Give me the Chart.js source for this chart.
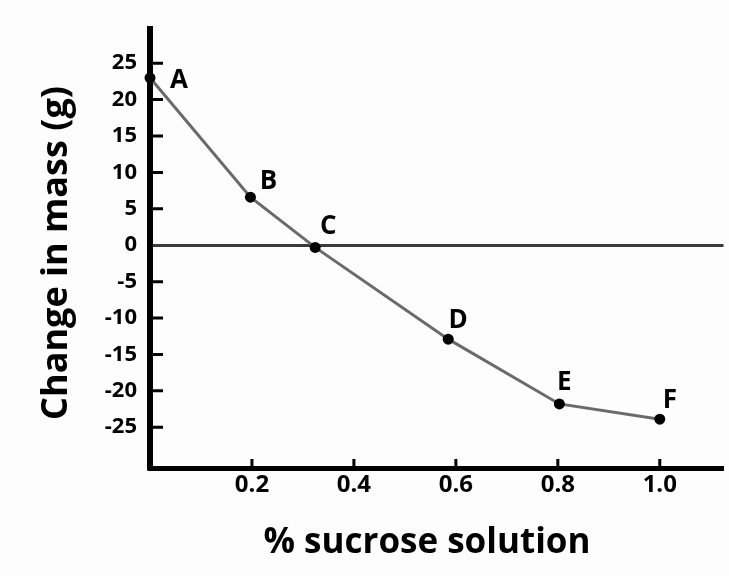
<!DOCTYPE html>
<html>
<head>
<meta charset="utf-8">
<script src="https://cdn.jsdelivr.net/npm/chart.js@4"></script>
<style>
  html, body { margin: 0; padding: 0; background: #fdfdfd; overflow: hidden; }
  canvas { display: block; }
</style>
</head>
<body>
<canvas id="chart-mass" width="729" height="576"></canvas>
<script>
// sucrose concentration vs change in mass
const pointLabels = ['A', 'B', 'C', 'D', 'E', 'F'];
const sucrose = [0, 0.197, 0.324, 0.585, 0.803, 1.0];
const massChange = [23, 6.6, -0.3, -12.9, -21.8, -23.9];

const xTicks = [0.2, 0.4, 0.6, 0.8, 1.0];
const yTicks = [-25, -20, -15, -10, -5, 0, 5, 10, 15, 20, 25];

// where each letter sits relative to its dot (px)
const LABEL_OFFSETS = [[29, 3], [18, -16], [13, -21], [10, -19], [5, -21], [10, -19]];

const FONT = '"Open Sans", "DejaVu Sans", sans-serif';

const innerTicks = {
    id: 'innerTicks',
    beforeDraw(chart) {
        const ctx = chart.ctx;
        ctx.save();
        ctx.fillStyle = '#fdfdfd';
        ctx.fillRect(0, 0, chart.width, chart.height);
        ctx.restore();
    },
    beforeDatasetsDraw(chart) {
        const { ctx, chartArea, scales } = chart;
        ctx.save();
        ctx.strokeStyle = '#000';
        ctx.lineWidth = 3;
        ctx.beginPath();
        yTicks.forEach(v => {
            if (v === 0) return;
            const y = scales.y.getPixelForValue(v);
            ctx.moveTo(chartArea.left, y);
            ctx.lineTo(chartArea.left + 13, y);
        });
        xTicks.forEach(v => {
            const x = scales.x.getPixelForValue(v);
            ctx.moveTo(x, chartArea.bottom);
            ctx.lineTo(x, chartArea.bottom - 9);
        });
        ctx.stroke();
        // fill the corner where the two thick axes meet
        ctx.fillStyle = '#000';
        ctx.fillRect(chartArea.left - 3, chartArea.bottom - 1, 6, 3.5);
        ctx.restore();
    },
    afterDatasetsDraw(chart) {
        const ctx = chart.ctx;
        const meta = chart.getDatasetMeta(0);
        ctx.save();
        ctx.fillStyle = '#000';
        ctx.font = `bold 26px ${FONT}`;
        ctx.textAlign = 'center';
        ctx.textBaseline = 'middle';
        meta.data.forEach((pt, i) => {
            const [dx, dy] = LABEL_OFFSETS[i];
            ctx.fillText(pointLabels[i], pt.x + dx, pt.y + dy);
        });

        // axis titles
        ctx.font = `bold 35px ${FONT}`;
        ctx.textBaseline = 'alphabetic';
        ctx.fillText('% sucrose solution', 427, 553);
        ctx.font = `bold 36px ${FONT}`;
        ctx.translate(67, 253);
        ctx.rotate(-Math.PI / 2);
        ctx.fillText('Change in mass (g)', 0, 0);
        ctx.restore();
    },
};

const massChart = new Chart(document.getElementById('chart-mass'), {
    type: 'line',
    data: {
        datasets: [{
            data: sucrose.map((x, i) => ({ x, y: massChange[i] })),
            borderColor: '#6a6a6a',
            borderWidth: 3,
            pointRadius: 5.5,
            pointBackgroundColor: '#000',
            pointBorderWidth: 0,
            tension: 0,
            clip: false,
        }],
    },
    options: {
        responsive: false,
        animation: false,
        events: [],
        layout: { padding: { top: 29, right: 2, left: 0, bottom: 0 } },
        plugins: {
            legend: { display: false },
            tooltip: { enabled: false },
        },
        scales: {
            x: {
                type: 'linear',
                min: 0,
                max: 1.125,
                afterBuildTicks: s => { s.ticks = xTicks.map(v => ({ value: v })); },
                afterFit: s => { s.height = 108; },
                ticks: {
                    color: '#000',
                    padding: 3,
                    maxRotation: 0,
                    autoSkip: false,
                    font: { family: FONT, size: 24, weight: 'bold' },
                    callback: v => v.toFixed(1),
                },
                grid: { display: false, drawTicks: false },
                border: { display: true, color: '#000', width: 5 },
            },
            y: {
                min: -30.6,
                max: 29.7,
                afterBuildTicks: s => { s.ticks = yTicks.map(v => ({ value: v })); },
                afterFit: s => { s.width = 150; },
                ticks: {
                    color: '#000',
                    padding: 13,
                    autoSkip: false,
                    font: { family: FONT, size: 22, weight: 'bold' },
                },
                grid: {
                    drawTicks: false,
                    color: c => (c.tick && c.tick.value === 0 ? '#3a3a3a' : 'rgba(0,0,0,0)'),
                    lineWidth: c => (c.tick && c.tick.value === 0 ? 3 : 0),
                },
                border: { display: true, color: '#000', width: 6 },
            },
        },
    },
    plugins: [innerTicks],
});
</script>
</body>
</html>
